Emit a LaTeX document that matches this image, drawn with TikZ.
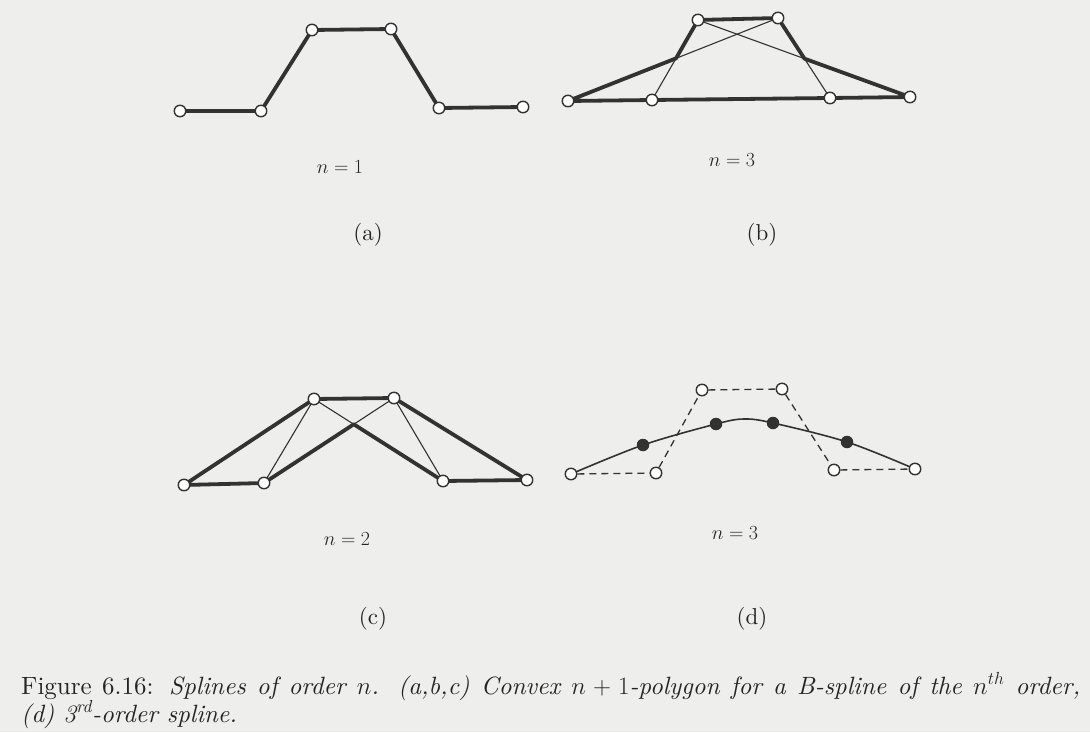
\documentclass[tikz,border=0pt]{standalone}
\usepackage{fix-cm}
\usepackage{fontspec}
\newfontfamily\capfont{lmroman10}[Extension=.otf,UprightFont=*-regular,ItalicFont=*-italic,BoldFont=*-bold]
\definecolor{bgc}{RGB}{238,238,236}
\definecolor{linec}{RGB}{50,50,50}
\definecolor{txtc}{RGB}{36,36,36}
\pgfdeclarelayer{bg}
\pgfdeclarelayer{edges}
\pgfsetlayers{bg,edges,main}
\begin{document}
\begin{tikzpicture}[x=1pt,y=-1pt,
  pt/.style={circle,draw=linec,fill=white,line width=1.4pt,inner sep=0pt,minimum size=11.5pt},
  dot/.style={circle,fill=linec,inner sep=0pt,minimum size=12.5pt},
  thickedge/.style={draw=linec,line width=3.8pt,line join=round},
  thinedge/.style={draw=linec,line width=1.1pt},
  dashedge/.style={draw=linec,line width=1.3pt,dash pattern=on 7pt off 5pt},
  curveedge/.style={draw=linec,line width=1.6pt},
  nlabel/.style={text=txtc,font=\capfont\fontsize{20}{24}\selectfont},
  plabel/.style={text=txtc,font=\capfont\fontsize{23}{27}\selectfont},
  caption/.style={text=txtc,anchor=base west,inner sep=0pt,font=\capfont\fontsize{25}{28}\selectfont}]
\begin{pgfonlayer}{bg}
\fill[bgc] (0,0) rectangle (1090,732);
\end{pgfonlayer}
\useasboundingbox (0,0) rectangle (1090,732);

% ---------- (a) n = 1
\node[pt] (a1) at (180,111) {};
\node[pt] (a2) at (261,111) {};
\node[pt] (a3) at (312,30) {};
\node[pt] (a4) at (391,29) {};
\node[pt] (a5) at (439,108) {};
\node[pt] (a6) at (523,107) {};
\begin{pgfonlayer}{edges}
\draw[thickedge] (a1.center)--(a2.center)--(a3.center)--(a4.center)--(a5.center)--(a6.center);
\end{pgfonlayer}
\node[nlabel] (na) at (340,167) {$n = 1$};
\node[plabel] (la) at (368,235) {(a)};

% ---------- (b) n = 3
\node[pt] (b1) at (568,101) {};
\node[pt] (b2) at (652,100) {};
\node[pt] (b3) at (698,20) {};
\node[pt] (b4) at (778,18) {};
\node[pt] (b5) at (830,98) {};
\node[pt] (b6) at (910,97) {};
\coordinate (bx1) at (intersection of b1.center--b4.center and b2.center--b3.center);
\coordinate (bx2) at (intersection of b3.center--b6.center and b4.center--b5.center);
\begin{pgfonlayer}{edges}
\draw[thinedge] (bx1)--(b4.center);
\draw[thinedge] (bx1)--(b2.center);
\draw[thinedge] (b3.center)--(bx2);
\draw[thinedge] (bx2)--(b5.center);
\draw[thickedge] (b1.center)--(bx1)--(b3.center)--(b4.center)--(bx2)--(b6.center)--(b5.center)--(b2.center)--cycle;
\end{pgfonlayer}
\node[nlabel] (nb) at (732,160) {$n = 3$};
\node[plabel] (lb) at (762,235) {(b)};

% ---------- (c) n = 2
\node[pt] (c1) at (184,485) {};
\node[pt] (c2) at (264,483) {};
\node[pt] (c3) at (314,399) {};
\node[pt] (c4) at (394,398) {};
\node[pt] (c5) at (443,481) {};
\node[pt] (c6) at (527,480) {};
\coordinate (cx) at (intersection of c2.center--c4.center and c3.center--c5.center);
\begin{pgfonlayer}{edges}
\draw[thinedge] (c2.center)--(c3.center);
\draw[thinedge] (c4.center)--(c5.center);
\draw[thinedge] (cx)--(c4.center);
\draw[thinedge] (c3.center)--(cx);
\draw[thickedge] (c1.center)--(c2.center)--(cx)--(c5.center)--(c6.center)--(c4.center)--(c3.center)--cycle;
\end{pgfonlayer}
\node[nlabel] (nc) at (347,539) {$n = 2$};
\node[plabel] (lc) at (373,619) {(c)};

% ---------- (d) cubic spline
\node[pt] (d1) at (571,474) {};
\node[pt] (d2) at (656,473) {};
\node[pt] (d3) at (702,390) {};
\node[pt] (d4) at (782,389) {};
\node[pt] (d5) at (834,470) {};
\node[pt] (d6) at (915,469) {};
\node[dot] (f1) at (643,445) {};
\node[dot] (f2) at (716,424) {};
\node[dot] (f3) at (773,423) {};
\node[dot] (f4) at (847,442) {};
\coordinate (dpk) at (744,419);
\begin{pgfonlayer}{edges}
\draw[dashedge] (d1)--(d2);
\draw[dashedge] (d2)--(d3);
\draw[dashedge] (d3)--(d4);
\draw[dashedge] (d4)--(d5);
\draw[dashedge] (d5)--(d6);
\draw[curveedge] plot[smooth,tension=0.55] coordinates {(d1.center) (f1.center) (f2.center) (dpk) (f3.center) (f4.center) (d6.center)};
\end{pgfonlayer}
\node[nlabel] (nd) at (735,533) {$n = 3$};
\node[plabel] (ld) at (752,619) {(d)};

% ---------- caption
\node[caption] (cap1) at (21,694) {\hbox to 1059pt{Figure 6.16: \textit{Splines of order $n$. (a,b,c) Convex $n+1$-polygon for a B-spline of the $n^{th}$ order,}}};
\node[caption] (cap2) at (21,722) {\textit{(d) 3\textsuperscript{rd}-order spline.}};
\end{tikzpicture}
\end{document}
